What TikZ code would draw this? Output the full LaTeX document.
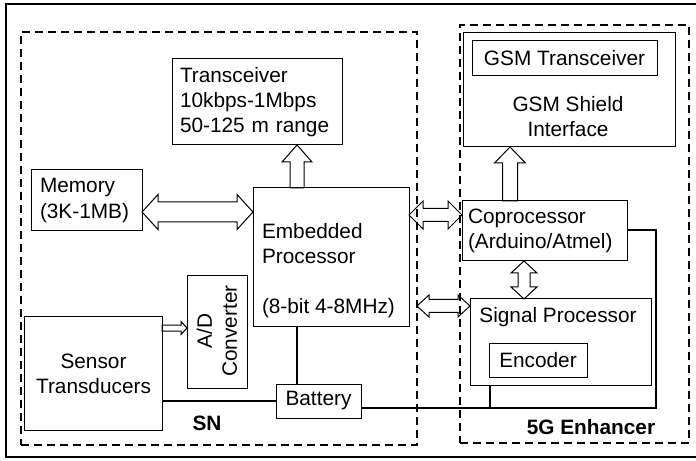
\documentclass[tikz,border=0pt]{standalone}
\usepackage{fontspec}
\setmainfont{Liberation Sans}
\usetikzlibrary{calc}

% hollow block arrows, drawn between two points
% #1 first point, #2 second point, #3 half shaft width, #4 half head width, #5 head length
\newcommand{\blkDoubleH}[5]{%
  \path[blockarrow] let \p1=(#1), \p2=(#2) in
    (\x1,\y1) -- (\x1+#5,\y1+#4) -- (\x1+#5,\y1+#3) -- (\x2-#5,\y1+#3) -- (\x2-#5,\y1+#4)
    -- (\x2,\y1) -- (\x2-#5,\y1-#4) -- (\x2-#5,\y1-#3) -- (\x1+#5,\y1-#3) -- (\x1+#5,\y1-#4) -- cycle;}
\newcommand{\blkDoubleV}[5]{%
  \path[blockarrow] let \p1=(#1), \p2=(#2) in
    (\x1,\y1) -- (\x1+#4,\y1-#5) -- (\x1+#3,\y1-#5) -- (\x1+#3,\y2+#5) -- (\x1+#4,\y2+#5)
    -- (\x1,\y2) -- (\x1-#4,\y2+#5) -- (\x1-#3,\y2+#5) -- (\x1-#3,\y1-#5) -- (\x1-#4,\y1-#5) -- cycle;}
\newcommand{\blkUp}[5]{%
  \path[blockarrow] let \p1=(#1), \p2=(#2) in
    (\x1-#3,\y1) -- (\x1-#3,\y2-#5) -- (\x1-#4,\y2-#5) -- (\x1,\y2) -- (\x1+#4,\y2-#5)
    -- (\x1+#3,\y2-#5) -- (\x1+#3,\y1) -- cycle;}
\newcommand{\blkRight}[5]{%
  \path[blockarrow] let \p1=(#1), \p2=(#2) in
    (\x1,\y1+#3) -- (\x2-#5,\y1+#3) -- (\x2-#5,\y1+#4) -- (\x2,\y1) -- (\x2-#5,\y1-#4)
    -- (\x2-#5,\y1-#3) -- (\x1,\y1-#3) -- cycle;}

\begin{document}
\begin{tikzpicture}[x=1bp, y=-1bp,
  font=\fontsize{20.8bp}{25bp}\selectfont,
  box/.style={draw, line width=1bp, inner sep=0pt, outer sep=0pt},
  group/.style={draw, line width=2bp, dash pattern=on 8bp off 5bp, inner sep=0pt, outer sep=0pt},
  txt/.style={inner sep=0pt, outer sep=0pt},
  grouplabel/.style={inner sep=0pt, font=\fontsize{20.8bp}{25bp}\selectfont\bfseries},
  blockarrow/.style={draw, line width=1bp, line join=miter},
  wire/.style={line width=1.5bp},
  bus/.style={line width=2bp}]

\useasboundingbox (0,0) rectangle (696,461);

% outer frame
\draw[line width=2.5bp] (696,4) -- (6,4) -- (6,457) -- (696,457);

% groups
\node[group, minimum width=396bp, minimum height=413bp] (sn) at (219,238.5) {};
\node[group, minimum width=229bp, minimum height=418bp] (enh) at (574.5,234) {};
\node[grouplabel] (snlabel) at (207,423) {SN};
\node[grouplabel] (enhlabel) at (591,427) {5G Enhancer};

% sensor node blocks
\node[box, minimum width=170bp, minimum height=86bp, text width=154bp, align=left] (trx)
  at (257,102) {Transceiver\\10kbps-1Mbps\\50-125 m range};
\node[box, minimum width=110bp, minimum height=61bp, text width=94bp, align=left] (mem)
  at (87,200.5) {Memory\\(3K-1MB)};
\node[box, minimum width=156bp, minimum height=138bp] (emb) at (331,257) {};
\node[txt, anchor=west, align=left] (embtxt) at (262,271)
  {Embedded\\Processor\\[25bp](8-bit 4-8MHz)};
\node[box, minimum width=60bp, minimum height=112bp] (ad) at (217,332) {};
\node[txt, rotate=90, align=center] (adtxt) at (217,331) {A/D\\Converter};
\node[box, minimum width=137bp, minimum height=113bp, align=center] (sen)
  at (93.5,373.5) {Sensor\\Transducers};
\node[box, minimum width=85bp, minimum height=34bp] (bat) at (318.5,401) {Battery};

% enhancer blocks
\node[box, minimum width=212bp, minimum height=114bp] (gsm) at (569,90) {};
\node[box, minimum width=185bp, minimum height=35bp] (gsmt) at (564.5,58.5) {GSM Transceiver};
\node[txt, align=center] (gsmtxt) at (568,116.5) {GSM Shield\\Interface};
\node[box, minimum width=165bp, minimum height=60bp, text width=153bp, align=left] (cop)
  at (544.5,231) {Coprocessor\\(Arduino/Atmel)};
\node[box, minimum width=181bp, minimum height=86bp] (sig) at (560.5,342) {};
\node[txt] (sigtxt) at (558,317) {Signal Processor};
\node[box, minimum width=98bp, minimum height=34bp] (enc) at (538,360) {Encoder};

% rows and columns used by the connectors
\coordinate (rowM) at (0,212);
\coordinate (rowC) at (0,215);
\coordinate (rowS) at (0,306);
\coordinate (rowA) at (0,328);
\coordinate (rowP) at (0,230);
\coordinate (busrow) at (0,408);
\coordinate (colA) at (297,0);
\coordinate (colB) at (656,0);
\coordinate (colC) at (490,0);
\coordinate (colD) at (524,0);
\coordinate (colE) at (510,0);

% power wiring
\draw[wire] (colA |- emb.south) -- (colA |- bat.north);
\draw[wire] (sen.east |- bat.west) -- (bat.west);
\draw[bus] (cop.east |- rowP) -- (colB |- rowP) -- (colB |- busrow) -- (bat.east |- busrow);
\draw[bus] (colC |- sig.south) -- (colC |- busrow);

% data paths
\blkDoubleH{mem.east |- rowM}{emb.west |- rowM}{10bp}{17.5bp}{16bp}
\blkDoubleH{emb.east |- rowC}{cop.west |- rowC}{6.5bp}{14bp}{14bp}
\blkDoubleH{sn.east |- rowS}{sig.west |- rowS}{6.5bp}{11bp}{12bp}
\blkDoubleV{colD |- cop.south}{colD |- sig.north}{6bp}{13bp}{12bp}
\blkUp{colA |- emb.north}{colA |- trx.south}{7bp}{15bp}{17bp}
\blkUp{colE |- cop.north}{colE |- gsm.south}{7.5bp}{15.5bp}{16bp}
\blkRight{sen.east |- rowA}{ad.west |- rowA}{3bp}{6.5bp}{6bp}

\end{tikzpicture}
\end{document}
